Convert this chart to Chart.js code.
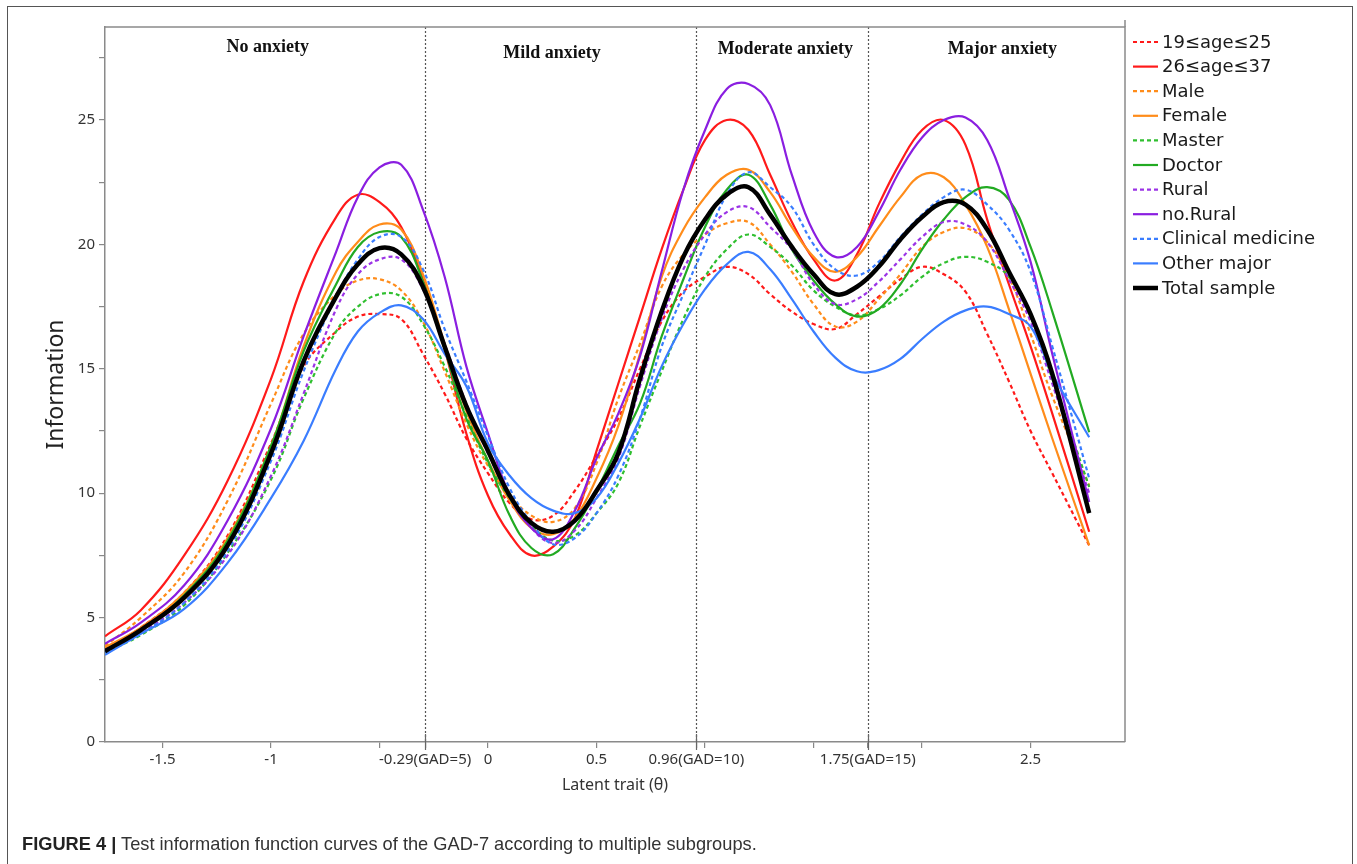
<!DOCTYPE html>
<html><head><meta charset="utf-8">
<script src="https://cdn.jsdelivr.net/npm/chart.js@4.4.1/dist/chart.umd.min.js"></script>
<style>
html,body{margin:0;padding:0;background:#fff;}
#wrap{position:relative;width:1357px;height:864px;overflow:hidden;background:#fff;}
#frame{position:absolute;left:7px;top:6px;width:1346px;height:920px;border:1.5px solid #555;box-sizing:border-box;}
#c{position:absolute;left:0;top:0;}
#cap{position:absolute;left:22px;top:833px;font-family:'Liberation Sans',Arial,sans-serif;font-size:19px;color:#333;white-space:nowrap;transform:scaleX(0.96);transform-origin:left top;}
#cap b{color:#222;}
</style></head><body>
<div id="wrap"><div id="frame"></div><canvas id="c" width="1357" height="864"></canvas>
<div id="cap"><b>FIGURE 4 |</b> Test information function curves of the GAD-7 according to multiple subgroups.</div></div>
<script>
// ---- data ----
const theta = [-1.765,-1.6,-1.4,-1.2,-1.0,-0.85,-0.7,-0.6,-0.5,-0.4,-0.3,-0.2,-0.1,0,0.1,0.2,0.3,0.4,0.5,0.6,0.7,0.8,0.9,1.0,1.1,1.2,1.3,1.4,1.5,1.6,1.7,1.8,1.9,2.0,2.1,2.2,2.3,2.4,2.5,2.6,2.77];
const age19_25 = [3.7,4.6,6.0,8.3,12.0,15.1,16.5,17.1,17.2,17.0,15.6,14.0,12.2,10.8,9.6,8.95,9.1,10.1,11.5,13.0,15.0,16.9,18.1,18.7,19.1,18.8,18.0,17.3,16.8,16.6,17.2,17.9,18.6,19.1,18.8,18.1,16.4,14.5,12.5,10.8,7.9];
const age26_37 = [4.25,5.3,7.5,10.5,14.6,18.5,21.1,22.0,21.7,20.7,18.6,15.8,12.4,9.9,8.35,7.5,7.85,9.0,11.7,14.4,17.1,19.8,22.2,24.2,25.0,24.6,22.8,20.9,19.4,18.55,19.6,21.6,23.3,24.6,25.0,24.0,21.0,18.4,15.9,13.2,8.45];
const male = [3.85,5.0,6.8,9.7,13.6,16.4,18.0,18.55,18.6,18.15,16.9,14.9,12.8,11.1,9.9,9.1,8.85,9.4,11.2,13.8,16.0,18.3,19.6,20.4,20.85,20.9,20.0,18.9,17.6,16.7,16.9,17.8,18.8,19.9,20.5,20.65,20.1,18.7,16.4,13.9,10.3];
const female = [3.8,4.6,6.0,8.2,11.9,15.9,18.9,20.1,20.8,20.6,18.8,16.0,13.3,11.3,9.7,8.6,8.35,9.0,10.6,12.7,15.6,18.7,20.6,21.9,22.8,23.0,22.1,20.7,19.5,18.9,19.5,20.7,21.9,22.8,22.7,21.6,19.9,17.4,14.8,12.2,7.9];
const master = [3.6,4.3,5.5,7.6,10.55,13.8,16.5,17.5,18.0,17.9,16.8,15.1,13.1,11.2,9.8,8.7,8.1,8.3,9.2,10.4,12.7,14.9,17.0,18.7,19.8,20.4,19.9,19.15,18.15,17.5,17.15,17.4,17.95,18.7,19.25,19.5,19.3,18.7,17.1,14.6,10.25];
const doctor = [3.7,4.5,5.9,8.1,11.9,15.7,18.4,19.9,20.5,20.3,18.5,15.8,13.0,11.3,9.1,7.8,7.55,8.6,10.1,11.9,13.6,16.3,18.6,20.7,22.2,22.8,21.6,19.8,18.55,17.6,17.1,17.4,18.4,19.8,21.0,21.9,22.3,21.8,19.9,17.3,12.45];
const rural = [3.7,4.4,5.6,7.5,10.7,14.0,17.4,18.8,19.4,19.4,18.2,16.0,13.6,11.6,9.9,8.6,8.0,8.5,9.8,11.4,14.3,17.0,19.0,20.4,21.3,21.5,20.7,19.8,18.4,17.6,17.8,18.5,19.4,20.3,20.9,20.8,20.1,18.6,16.9,14.4,10.0];
const noRural = [3.95,4.8,6.3,8.9,12.6,16.3,19.7,21.9,23.1,23.2,21.4,18.7,15.1,12.4,9.9,8.6,8.15,9.3,11.4,13.2,15.5,18.9,22.2,24.6,26.25,26.45,25.6,22.8,20.5,19.5,19.9,21.3,23.0,24.3,25.0,25.1,24.2,21.9,19.3,15.6,9.65];
const clinical = [3.6,4.35,5.6,7.7,11.3,14.9,17.9,19.4,20.3,20.3,19.0,16.6,14.5,12.3,10.2,8.8,7.95,8.2,9.2,10.7,13.0,15.9,18.0,20.0,22.0,22.9,22.3,21.5,20.0,19.0,18.75,19.3,20.3,21.2,21.9,22.2,21.6,20.6,18.9,15.9,10.6];
const otherMajor = [3.5,4.35,5.35,7.2,9.8,12.1,15.0,16.5,17.25,17.55,17.0,15.6,14.3,12.0,10.7,9.8,9.3,9.2,9.8,11.2,13.0,15.1,16.8,18.2,19.2,19.7,19.0,17.8,16.5,15.45,14.9,14.95,15.4,16.2,16.9,17.35,17.5,17.2,16.7,14.8,12.25];
const total = [3.65,4.5,5.8,7.9,11.6,15.3,17.9,19.2,19.85,19.6,18.3,15.9,13.5,11.7,9.9,8.8,8.45,8.9,10.1,11.6,14.6,17.3,19.5,21.0,22.0,22.3,21.2,19.9,18.8,18.0,18.3,19.1,20.2,21.1,21.7,21.6,20.6,18.9,17.2,14.8,9.2];

const seriesNames = ['19≤age≤25','26≤age≤37','Male','Female','Master','Doctor','Rural','no.Rural','Clinical medicine','Other major','Total sample'];
const seriesValues = [age19_25,age26_37,male,female,master,doctor,rural,noRural,clinical,otherMajor,total];
const seriesColors = ['#ff1a1a','#ff1a1a','#ff8c1a','#ff8c1a','#2fbf2f','#22aa22','#9b33e6','#8a1ee0','#3a7dff','#3a7dff','#000000'];
const seriesDashed = [true,false,true,false,true,false,true,false,true,false,false];

const xTickVals = [-1.5,-1,-0.5,-0.29,0,0.5,0.96,1,1.5,1.75,2,2.5];
const xTickLabels = ['-1.5','-1','','-0.29(GAD=5)','0','0.5','0.96(GAD=10)','','','1.75(GAD=15)','','2.5'];
const gadCuts = [-0.29,0.96,1.75];
const regionNames = ['No anxiety','Mild anxiety','Moderate anxiety','Major anxiety'];
const regionCenters = [-1.015,0.295,1.37,2.37];
const regionDy = [20,26,22,22];

const datasets = seriesNames.map((name,i)=>({
  label:name,
  data: seriesValues[i].map((v,k)=>({x:theta[k],y:v})),
  borderColor: seriesColors[i],
  backgroundColor: seriesColors[i],
  borderWidth: i===10 ? 4.5 : 2.2,
  borderDash: seriesDashed[i] ? [4,3] : [],
  pointRadius:0,
  tension:0.4,
  fill:false,
  order: 10 - i
}));

const decor = {
  id:'decor',
  beforeDatasetsDraw(chart){
    const {ctx, chartArea:ca, scales:{x}} = chart;
    ctx.save();
    ctx.strokeStyle='#555'; ctx.lineWidth=1.2; ctx.setLineDash([2,2]);
    gadCuts.forEach(v=>{
      const px = Math.round(x.getPixelForValue(v))+0.5;
      ctx.beginPath(); ctx.moveTo(px, ca.top); ctx.lineTo(px, ca.bottom); ctx.stroke();
    });
    ctx.setLineDash([]);
    ctx.strokeStyle='#666'; ctx.lineWidth=1.2;
    gadCuts.forEach(v=>{
      const px = Math.round(x.getPixelForValue(v))+0.5;
      ctx.beginPath(); ctx.moveTo(px, ca.bottom-8); ctx.lineTo(px, ca.bottom+8); ctx.stroke();
    });
    ctx.strokeStyle='#8a8a8a'; ctx.lineWidth=1.5;
    ctx.beginPath(); ctx.moveTo(ca.left, ca.top); ctx.lineTo(ca.right, ca.top); ctx.lineTo(ca.right, ca.bottom); ctx.stroke();
    ctx.beginPath(); ctx.moveTo(ca.right, ca.top); ctx.lineTo(ca.right, 20); ctx.stroke();
    ctx.fillStyle='#111'; ctx.font='bold 18px "Liberation Serif", "Times New Roman", serif';
    ctx.textAlign='center'; ctx.textBaseline='middle';
    regionNames.forEach((t,i)=>{
      ctx.fillText(t, x.getPixelForValue(regionCenters[i]), ca.top + regionDy[i]);
    });
    ctx.restore();
  },
  afterDraw(chart){
    const {ctx, chartArea:ca} = chart;
    const x0 = ca.right + 8, len = 25, tx = x0 + len + 4;
    ctx.save();
    ctx.font='18px "DejaVu Sans", sans-serif'; ctx.textBaseline='middle'; ctx.textAlign='left';
    seriesNames.forEach((name,i)=>{
      const y = 42 + i*24.6;
      ctx.beginPath();
      ctx.strokeStyle = seriesColors[i];
      ctx.lineWidth = i===10 ? 4.5 : 2.2;
      ctx.setLineDash(seriesDashed[i] ? [4,3] : []);
      ctx.moveTo(x0, y); ctx.lineTo(x0+len, y); ctx.stroke();
      ctx.setLineDash([]);
      ctx.fillStyle='#1a1a1a';
      ctx.fillText(name, tx, y+1);
    });
    ctx.restore();
  }
};

new Chart(document.getElementById('c'), {
  type:'line',
  data:{datasets},
  options:{
    responsive:false, animation:false,
    layout:{padding:{left:0, top:27, right:232, bottom:62}},
    plugins:{legend:{display:false}, tooltip:{enabled:false}},
    scales:{
      x:{
        type:'linear', min:-1.765, max:2.935,
        afterBuildTicks(s){ s.ticks = xTickVals.map(v=>({value:v})); },
        afterFit(s){ s.height = 60; },
        grid:{drawOnChartArea:false, drawTicks:true, tickLength:6, color:'#888', lineWidth:1.2},
        border:{display:true, color:'#8a8a8a', width:1.5},
        ticks:{autoSkip:false, maxRotation:0, minRotation:0, padding:3, color:'#333',
          font:{family:'"Noto Sans", sans-serif', size:15},
          callback(v){ const i = xTickVals.findIndex(t=>Math.abs(t-v)<1e-6); return i>=0 ? xTickLabels[i] : ''; }},
        title:{display:true, text:'Latent trait (θ)', color:'#333', font:{family:'"Noto Sans", sans-serif', size:16}, padding:{top:0,bottom:7}}
      },
      y:{
        min:0, max:28.74,
        afterFit(s){ s.width = 105; },
        grid:{drawOnChartArea:false, drawTicks:true, tickLength:6, color:'#888', lineWidth:1.2},
        border:{display:true, color:'#8a8a8a', width:1.5},
        ticks:{stepSize:2.5, includeBounds:false, padding:4, color:'#333',
          font:{family:'"Noto Sans", sans-serif', size:15},
          callback(v){ return (Math.abs(v%5)<1e-6) ? String(v) : ''; }},
        title:{display:true, text:'Information', color:'#222', font:{family:'"Noto Sans", sans-serif', size:23}, padding:{top:43,bottom:0}}
      }
    }
  },
  plugins:[decor]
});
</script>
</body></html>
